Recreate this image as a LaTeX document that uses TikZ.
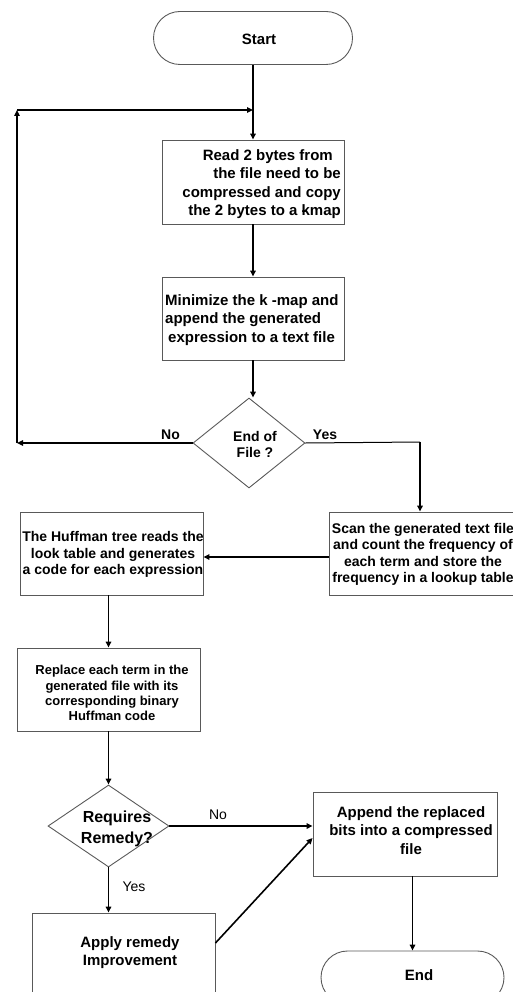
\documentclass[tikz,border=0pt]{standalone}
\usepackage{fontspec}
\setmainfont{Liberation Sans}
\usetikzlibrary{shapes.geometric,shapes.misc,arrows.meta}
\begin{document}
\begin{tikzpicture}[x=1pt,y=-1pt,
  box/.style={draw=black!65, line width=0.9pt, rectangle, inner sep=0pt},
  term/.style={draw=black!65, line width=0.9pt, rounded rectangle, inner sep=0pt, minimum width=199pt, minimum height=53pt},
  dec/.style={draw=black!65, line width=0.9pt, diamond, inner sep=0pt},
  txtA/.style={inner sep=0pt, align=center, font=\fontsize{15}{18.5}\selectfont\bfseries},
  txtB/.style={inner sep=0pt, align=center, font=\fontsize{14}{16.5}\selectfont\bfseries},
  txtC/.style={inner sep=0pt, align=center, font=\fontsize{13}{15.3}\selectfont\bfseries},
  txtD/.style={inner sep=0pt, align=center, font=\fontsize{16}{21}\selectfont\bfseries},
  txtE/.style={inner sep=0pt, align=center, font=\fontsize{14}{15.5}\selectfont\bfseries},
  lblb/.style={inner sep=0pt, font=\fontsize{14}{16}\selectfont\bfseries},
  lblr/.style={inner sep=0pt, font=\fontsize{14}{16}\selectfont},
  conn/.style={line width=1.6pt, -{Triangle[length=6pt,width=5.5pt]}},
  thinconn/.style={line width=1pt}
]
\useasboundingbox (0,0) rectangle (513,992);
\clip (0,0) rectangle (513,992);

% shapes
\node[term] (start) at (253,38) {};
\node[txtA] (starttxt) at (259,39) {Start};

\node[box, minimum width=182pt, minimum height=84pt] (read) at (253,182) {};
\node[txtA, align=right, anchor=east] (readtxt) at (341,184) {Read 2 bytes from\hspace*{8pt}\\the file need to be\hspace*{8pt}\\compressed and copy\\the 2 bytes to a -\kern-5pt kmap};

\node[box, minimum width=182pt, minimum height=83pt] (mini) at (253,318.5) {};
\node[txtA, align=left, anchor=west] (minitxt) at (165,320) {Minimize the k -map and\\append the generated\\\hspace*{3pt}expression to a text file};

\node[dec, minimum width=112pt, minimum height=90pt] (eof) at (249,443) {};
\node[txtE] (eoftxt) at (255,444.5) {End of\\File ?};

\node[box, minimum width=186pt, minimum height=83pt] (scan) at (422,553.5) {};
\node[txtB] (scantxt) at (423,554.5) {Scan the generated text file\\and count the frequency of\\each term and store the\hspace*{14pt}\\frequency in a lookup table};

\node[box, minimum width=183pt, minimum height=83pt] (huff) at (111.5,553.5) {};
\node[txtB] (hufftxt) at (113,554.5) {The Huffman tree reads the\\look table and generates\\a code for each expression};

\node[box, minimum width=183pt, minimum height=83pt] (repl) at (108.5,689.5) {};
\node[txtC] (repltxt) at (112,693) {Replace each term in the\\generated file with its\\corresponding binary\\Huffman code};

\node[dec, minimum width=121pt, minimum height=82pt] (req) at (108.5,826) {};
\node[txtD] (reqtxt) at (117,828.5) {Requires\\Remedy?};

\node[box, minimum width=184pt, minimum height=84pt] (append) at (405,834) {};
\node[txtA] (appendtxt) at (411,830.5) {Append the replaced\\bits into a compressed\\file};

\node[box, minimum width=183pt, minimum height=84pt] (apply) at (123.5,955) {};
\node[txtA] (applytxt) at (130,952.5) {Apply remedy\\Improvement};

\node[term, minimum width=183pt] (end) at (412.5,977.5) {};
\node[txtA] (endtxt) at (419,975) {End};

% labels
\node[lblb] (noA) at (170.5,435) {No};
\node[lblb] (yesA) at (325,435) {Yes};
\node[lblr] (noB) at (218,815) {No};
\node[lblr] (yesB) at (134,887) {Yes};

% helper coordinates
\coordinate (lb) at (17,443);
\coordinate (lt) at (17,110);
\coordinate (mj) at (253,110);
\coordinate (yc) at (420,442);

% connectors
\draw[conn] (start) -- (read);
\draw[conn] (read) -- (mini);
\draw[conn] (mini.south) -- (mini.south |- eof.north);
\draw[conn] (eof.west) -- (lb);
\draw[conn] (lb) -- (lt);
\draw[conn] (lt) -- (mj);
\draw[thinconn] (eof.east) -- (yc);
\draw[conn] (yc) -- (yc |- scan.north);
\draw[conn] ([yshift=-3.5pt]scan.west) -- ([yshift=-3.5pt]huff.east);
\draw[conn] (repl.north |- huff.south) -- (repl.north);
\draw[conn] (repl) -- (req);
\draw[conn] (req.east) -- (req.east -| append.west);
\draw[conn] (req.south) -- (req.south |- apply.north);
\draw[conn] ([yshift=12pt]apply.east) -- ([yshift=-4pt]append.west);
\draw[conn] (end.north |- append.south) -- (end.north);
\end{tikzpicture}
\end{document}
